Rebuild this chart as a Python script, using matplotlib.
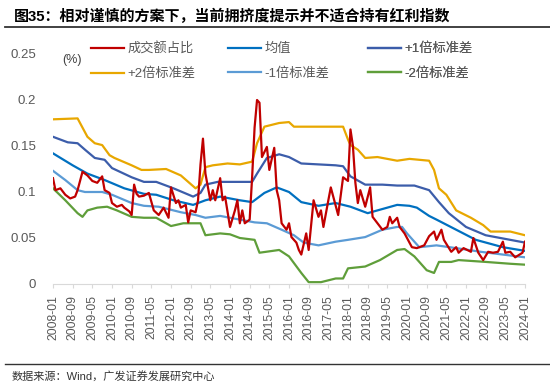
import matplotlib
matplotlib.use("Agg")
import matplotlib.pyplot as plt
from matplotlib.lines import Line2D

plt.rcParams['font.family'] = ['Liberation Sans', 'Noto Sans CJK SC']

# x = months counted from 2008-01 (0) to 2024-01 (192)
tick_pos = list(range(0, 193, 8))
tick_labels = ['2008-01', '2008-09', '2009-05', '2010-01', '2010-09', '2011-05',
               '2012-01', '2012-09', '2013-05', '2014-01', '2014-09', '2015-05',
               '2016-01', '2016-09', '2017-05', '2018-01', '2018-09', '2019-05',
               '2020-01', '2020-09', '2021-05', '2022-01', '2022-09', '2023-05',
               '2024-01']

# 成交额占比 (turnover share)
red_m = [0, 1, 3, 5, 7, 9, 10, 12, 14, 16, 17, 18, 20, 21, 23, 24, 26, 28, 29, 31,
         32, 33, 34, 35, 37, 39, 41, 43, 45, 47, 48, 50, 51, 52, 54, 55, 56, 58, 59, 60,
         61, 62, 64, 65, 66, 68, 69, 70, 72, 74, 75, 76, 77, 78, 80, 81, 82, 83, 84, 85,
         87, 88, 90, 91, 92, 93, 95, 96, 97, 99, 100, 101, 103, 104, 106, 108, 109, 110, 112, 113,
         114, 116, 118, 120, 121, 122, 123, 124, 125, 127, 129, 130, 132, 134, 136, 137, 138, 140, 141, 143,
         145, 146, 148, 151, 153, 155, 156, 158, 159, 162, 164, 165, 167, 170, 171, 173, 175, 177, 179, 181,
         183, 184, 186, 188, 191, 192]
red_v = [0.115, 0.102, 0.104, 0.097, 0.093, 0.095, 0.102, 0.122, 0.118, 0.112, 0.111, 0.110, 0.117, 0.102, 0.099, 0.088, 0.084, 0.086, 0.083, 0.079,
         0.075, 0.108, 0.098, 0.095, 0.096, 0.099, 0.080, 0.075, 0.083, 0.072, 0.105, 0.088, 0.091, 0.083, 0.086, 0.067, 0.080, 0.078, 0.091, 0.130,
         0.158, 0.120, 0.091, 0.102, 0.091, 0.115, 0.091, 0.095, 0.062, 0.080, 0.091, 0.066, 0.080, 0.066, 0.070, 0.116, 0.170, 0.200, 0.197, 0.138,
         0.149, 0.124, 0.148, 0.102, 0.091, 0.066, 0.059, 0.066, 0.051, 0.045, 0.037, 0.032, 0.055, 0.037, 0.091, 0.073, 0.080, 0.062, 0.091, 0.105,
         0.095, 0.075, 0.116, 0.112, 0.168, 0.150, 0.110, 0.088, 0.102, 0.084, 0.105, 0.073, 0.066, 0.059, 0.062, 0.073, 0.066, 0.072, 0.062, 0.055,
         0.045, 0.040, 0.039, 0.042, 0.052, 0.057, 0.048, 0.059, 0.048, 0.035, 0.040, 0.034, 0.039, 0.035, 0.050, 0.034, 0.026, 0.035, 0.034, 0.035,
         0.046, 0.034, 0.035, 0.029, 0.034, 0.046]

# 均值 (mean)
mean_m = [0, 8, 14, 21, 29, 37, 42, 49, 57, 62, 68, 76, 81, 86, 91, 96, 101, 108, 115, 121,
          128, 140, 145, 148, 153, 156, 164, 172, 183, 192]
mean_v = [0.142, 0.129, 0.120, 0.113, 0.104, 0.098, 0.097, 0.091, 0.086, 0.091, 0.095, 0.091, 0.089, 0.099, 0.105, 0.100, 0.089, 0.085, 0.088, 0.084,
          0.077, 0.086, 0.085, 0.083, 0.074, 0.070, 0.059, 0.048, 0.040, 0.036]

# +1倍标准差
p1_m = [0, 6, 10, 13, 17, 21, 24, 32, 37, 42, 49, 57, 60, 62, 67, 76, 81, 83, 87, 92,
        96, 101, 115, 118, 121, 127, 134, 140, 147, 153, 157, 161, 168, 176, 186, 192]
p1_v = [0.160, 0.154, 0.153, 0.146, 0.137, 0.135, 0.126, 0.116, 0.111, 0.111, 0.104, 0.095, 0.099, 0.108, 0.111, 0.111, 0.111, 0.120, 0.137, 0.141,
        0.138, 0.131, 0.129, 0.128, 0.117, 0.108, 0.108, 0.107, 0.107, 0.102, 0.089, 0.077, 0.062, 0.053, 0.048, 0.045]

# +2倍标准差
p2_m = [0, 10, 14, 17, 20, 23, 25, 32, 36, 39, 46, 52, 58, 60, 62, 65, 71, 76, 81, 83,
        86, 92, 96, 98, 115, 118, 120, 121, 124, 127, 132, 140, 145, 153, 155, 157, 160, 164, 170, 175,
        178, 186, 192]
p2_v = [0.179, 0.180, 0.160, 0.153, 0.151, 0.140, 0.137, 0.129, 0.124, 0.124, 0.125, 0.118, 0.104, 0.108, 0.127, 0.129, 0.131, 0.130, 0.133, 0.153,
        0.171, 0.175, 0.176, 0.171, 0.171, 0.171, 0.157, 0.151, 0.146, 0.137, 0.138, 0.134, 0.136, 0.134, 0.124, 0.104, 0.097, 0.080, 0.072, 0.064,
        0.057, 0.057, 0.053]

# -1倍标准差
m1_m = [0, 5, 10, 13, 20, 24, 32, 37, 43, 52, 58, 62, 68, 76, 82, 87, 93, 98, 102, 108,
        115, 120, 127, 134, 140, 142, 144, 149, 156, 164, 174, 183, 192]
m1_v = [0.123, 0.113, 0.102, 0.100, 0.100, 0.097, 0.088, 0.085, 0.084, 0.078, 0.075, 0.072, 0.074, 0.070, 0.067, 0.066, 0.059, 0.053, 0.045, 0.042,
        0.046, 0.048, 0.051, 0.059, 0.062, 0.062, 0.055, 0.040, 0.042, 0.039, 0.035, 0.032, 0.029]

# -2倍标准差
m2_m = [0, 5, 10, 12, 14, 18, 22, 26, 32, 37, 42, 48, 53, 60, 62, 68, 72, 76, 82, 84,
        92, 96, 101, 104, 109, 112, 115, 118, 120, 127, 133, 140, 143, 147, 152, 155, 157, 162, 165, 176,
        186, 192]
m2_v = [0.104, 0.091, 0.077, 0.073, 0.080, 0.083, 0.084, 0.080, 0.073, 0.072, 0.072, 0.063, 0.066, 0.066, 0.053, 0.055, 0.054, 0.050, 0.048, 0.034,
        0.037, 0.030, 0.012, 0.002, 0.002, 0.004, 0.006, 0.006, 0.017, 0.019, 0.026, 0.037, 0.038, 0.030, 0.015, 0.012, 0.024, 0.024, 0.026, 0.024,
        0.022, 0.021]

fig = plt.figure(figsize=(5.5, 3.85), dpi=100)
ax = fig.add_axes([53/550, 1 - 284/385, 472/550, 230/385])

lw = 1.6
h_p2, = ax.plot(p2_m, p2_v, color='#E8A700', lw=lw, label='+2倍标准差')
h_p1, = ax.plot(p1_m, p1_v, color='#3C5DAA', lw=lw, label='+1倍标准差')
h_mean, = ax.plot(mean_m, mean_v, color='#0070C0', lw=lw, label='均值')
h_m1, = ax.plot(m1_m, m1_v, color='#5B9BD5', lw=lw, label='-1倍标准差')
h_m2, = ax.plot(m2_m, m2_v, color='#5F9E3A', lw=lw, label='-2倍标准差')
h_red, = ax.plot(red_m, red_v, color='#C00000', lw=lw, label='成交额占比')

ax.set_xlim(0, 192)
ax.set_ylim(0, 0.25)
ax.set_yticks([0, 0.05, 0.1, 0.15, 0.2, 0.25])
ax.set_yticklabels(['0', '0.05', '0.1', '0.15', '0.2', '0.25'])
ax.set_xticks(tick_pos)
ax.set_xticklabels(tick_labels, rotation=90)

for s in ['top', 'right', 'left']:
    ax.spines[s].set_visible(False)
ax.spines['bottom'].set_color('#D9D9D9')
ax.tick_params(axis='y', length=0, pad=12, labelsize=9.5, labelcolor='#595959')
ax.tick_params(axis='x', length=3, color='#D9D9D9', pad=5, labelsize=8.7, labelcolor='#595959')

ax.text(0.02, 0.972, '(%)', transform=ax.transAxes, fontsize=9, color='#404040', va='center')

# one legend per column, two rows each
cols = [(91, [h_red, h_p2]), (228, [h_mean, h_m1]), (368, [h_p1, h_m2])]
for x_px, hs in cols:
    leg = ax.legend(handles=hs, labels=[h.get_label() for h in hs],
                    loc='upper left', bbox_to_anchor=((x_px - 53) / 472, 1.048),
                    frameon=False, borderpad=0, borderaxespad=0,
                    fontsize=9.5, labelcolor='#595959', handlelength=2.5,
                    handletextpad=0.25, labelspacing=0.9)
    ax.add_artist(leg)

fig.text(14/550, 1 - 16/385, '图35：相对谨慎的方案下，当前拥挤度提示并不适合持有红利指数',
         fontsize=10.8, fontweight='bold', va='center')
fig.add_artist(Line2D([5/550, 1], [1 - 27/385] * 2, color='#333333', lw=1.3))
fig.add_artist(Line2D([5/550, 1], [1 - 364/385] * 2, color='#333333', lw=1.0))
fig.text(12/550, 1 - 376/385, '数据来源：Wind，广发证券发展研究中心', fontsize=8, color='#333333', va='center')

fig.savefig('out.png', dpi=100)
